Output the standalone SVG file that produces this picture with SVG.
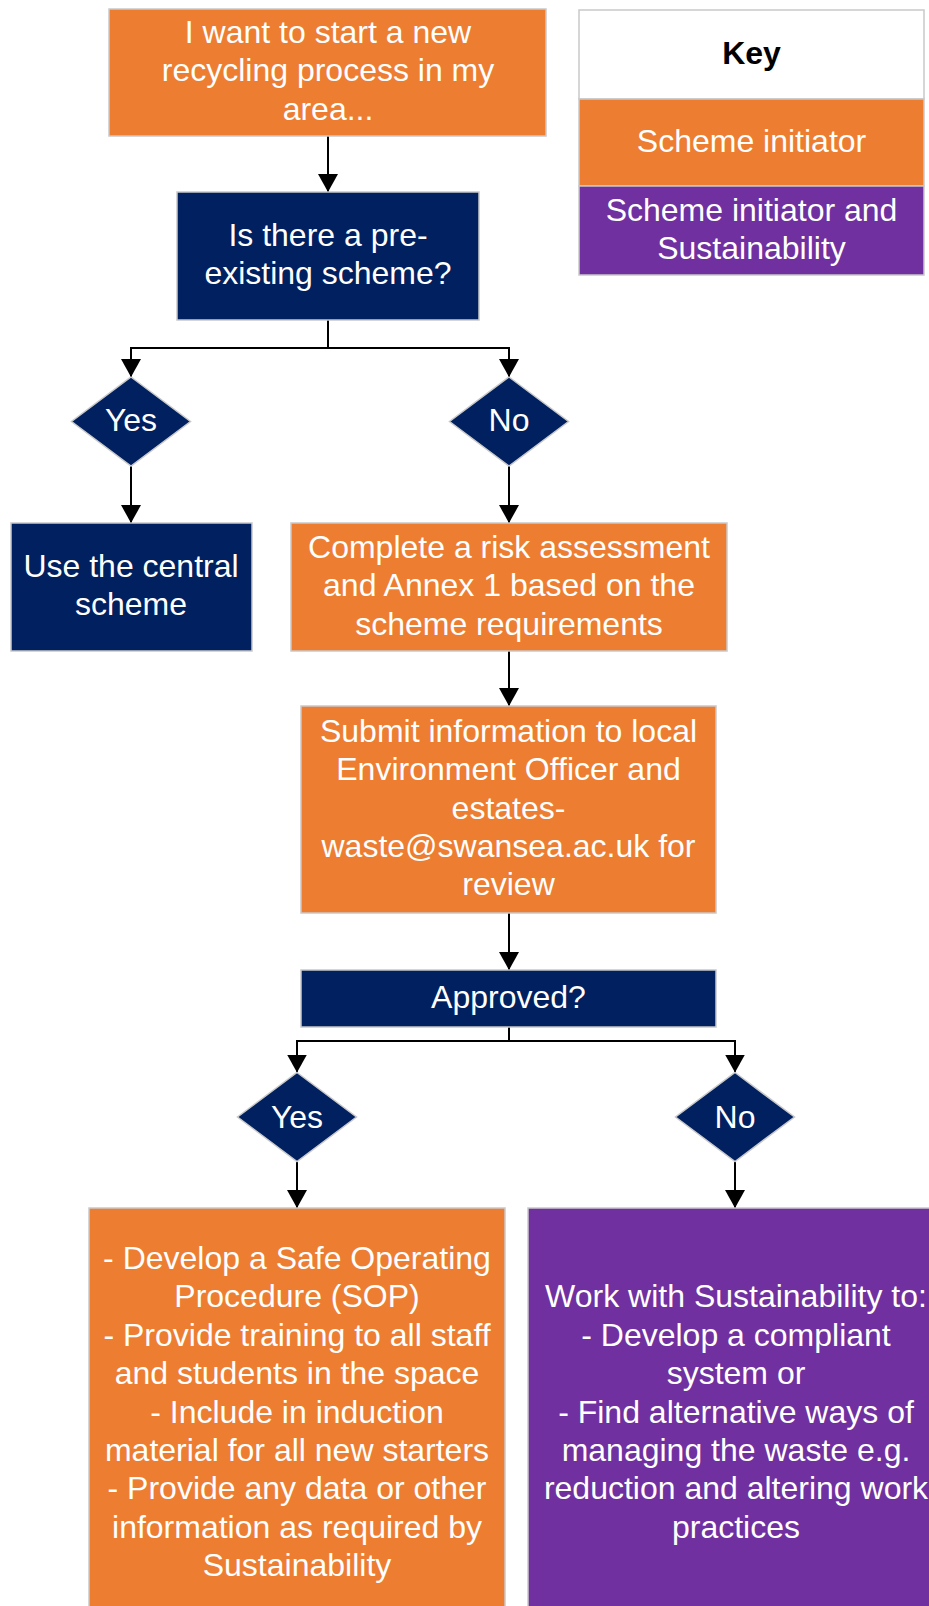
<svg xmlns="http://www.w3.org/2000/svg" width="929" height="1606" viewBox="0 0 929 1606">
<defs>
<marker id="arr" viewBox="0 0 18 20" refX="18" refY="10" markerWidth="18" markerHeight="20" markerUnits="userSpaceOnUse" orient="auto">
<path d="M0,0 L18,10 L0,20 z" fill="#000"/>
</marker>
<style>
.o{fill:#ED7D31;stroke:#C9C9C9;stroke-width:1.5}
.n{fill:#002060;stroke:#C9C9C9;stroke-width:1.5}
.p{fill:#7030A0;stroke:#C9C9C9;stroke-width:1.5}
.w{fill:#FFFFFF;stroke:#C9C9C9;stroke-width:1.5}
text{font-family:"Liberation Sans",Arial,sans-serif;font-size:32px;fill:#FFFFFF;text-anchor:middle}
.k{fill:#000000;font-weight:bold}
.c{fill:none;stroke:#000;stroke-width:2}
</style>
</defs>
<rect width="929" height="1606" fill="#FFFFFF"/>
<g id="connectors">
<line class="c" x1="328" y1="136" x2="328" y2="192" marker-end="url(#arr)"/>
<polyline class="c" points="328,320 328,348"/>
<polyline class="c" points="131,348 509,348"/>
<line class="c" x1="131" y1="347" x2="131" y2="377" marker-end="url(#arr)"/>
<line class="c" x1="509" y1="347" x2="509" y2="377" marker-end="url(#arr)"/>
<line class="c" x1="131" y1="466" x2="131" y2="523" marker-end="url(#arr)"/>
<line class="c" x1="509" y1="466" x2="509" y2="523" marker-end="url(#arr)"/>
<line class="c" x1="509" y1="651" x2="509" y2="706" marker-end="url(#arr)"/>
<line class="c" x1="509" y1="913" x2="509" y2="970" marker-end="url(#arr)"/>
<polyline class="c" points="509,1027 509,1041"/>
<polyline class="c" points="297,1041 735,1041"/>
<line class="c" x1="297" y1="1040" x2="297" y2="1072.5" marker-end="url(#arr)"/>
<line class="c" x1="735" y1="1040" x2="735" y2="1072.5" marker-end="url(#arr)"/>
<line class="c" x1="297" y1="1162" x2="297" y2="1208" marker-end="url(#arr)"/>
<line class="c" x1="735" y1="1162" x2="735" y2="1208" marker-end="url(#arr)"/>
</g>
<g id="start">
<rect class="o" x="109" y="9" width="437" height="127"/>
<text x="328" y="43">I want to start a new</text>
<text x="328" y="81.4">recycling process in my</text>
<text x="328" y="119.8">area...</text>
</g>
<g id="key">
<rect class="w" x="579" y="10" width="345" height="89"/>
<text class="k" x="751.5" y="64">Key</text>
<rect class="o" x="579" y="99" width="345" height="87"/>
<text x="751.5" y="152">Scheme initiator</text>
<rect class="p" x="579" y="186" width="345" height="89"/>
<text x="751.5" y="220.5">Scheme initiator and</text>
<text x="751.5" y="258.9">Sustainability</text>
</g>
<g id="q1">
<rect class="n" x="177" y="192" width="302" height="128"/>
<text x="328" y="246">Is there a pre-</text>
<text x="328" y="284.4">existing scheme?</text>
</g>
<g id="yes1">
<polygon class="n" points="131,377 190.5,421.5 131,466 71.5,421.5"/>
<text x="131" y="431">Yes</text>
</g>
<g id="no1">
<polygon class="n" points="509,377 568.5,421.5 509,466 449.5,421.5"/>
<text x="509" y="431">No</text>
</g>
<g id="central">
<rect class="n" x="11" y="523" width="241" height="128"/>
<text x="131" y="577">Use the central</text>
<text x="131" y="615.4">scheme</text>
</g>
<g id="risk">
<rect class="o" x="291" y="523" width="436" height="128"/>
<text x="509" y="558">Complete a risk assessment</text>
<text x="509" y="596.4">and Annex 1 based on the</text>
<text x="509" y="634.8">scheme requirements</text>
</g>
<g id="submit">
<rect class="o" x="301" y="706" width="415" height="207"/>
<text x="508.5" y="741.7">Submit information to local</text>
<text x="508.5" y="780.1">Environment Officer and</text>
<text x="508.5" y="818.5">estates-</text>
<text x="508.5" y="856.9">waste@swansea.ac.uk for</text>
<text x="508.5" y="895.3">review</text>
</g>
<g id="approved">
<rect class="n" x="301" y="970" width="415" height="57"/>
<text x="508.5" y="1008">Approved?</text>
</g>
<g id="yes2">
<polygon class="n" points="297,1072.5 356.5,1117 297,1161.5 237.5,1117"/>
<text x="297" y="1127.5">Yes</text>
</g>
<g id="no2">
<polygon class="n" points="735,1072.5 794.5,1117 735,1161.5 675.5,1117"/>
<text x="735" y="1127.5">No</text>
</g>
<g id="sop">
<rect class="o" x="89" y="1208" width="416" height="420"/>
<text x="297" y="1269">- Develop a Safe Operating</text>
<text x="297" y="1307.4">Procedure (SOP)</text>
<text x="297" y="1345.8">- Provide training to all staff</text>
<text x="297" y="1384.2">and students in the space</text>
<text x="297" y="1422.6">- Include in induction</text>
<text x="297" y="1461">material for all new starters</text>
<text x="297" y="1499.4">- Provide any data or other</text>
<text x="297" y="1537.8">information as required by</text>
<text x="297" y="1576.2">Sustainability</text>
</g>
<g id="work">
<rect class="p" x="528" y="1208" width="416" height="420"/>
<text x="736" y="1307.4">Work with Sustainability to:</text>
<text x="736" y="1345.8">- Develop a compliant</text>
<text x="736" y="1384.2">system or</text>
<text x="736" y="1422.6">- Find alternative ways of</text>
<text x="736" y="1461">managing the waste e.g.</text>
<text x="736" y="1499.4">reduction and altering work</text>
<text x="736" y="1537.8">practices</text>
</g>
</svg>
